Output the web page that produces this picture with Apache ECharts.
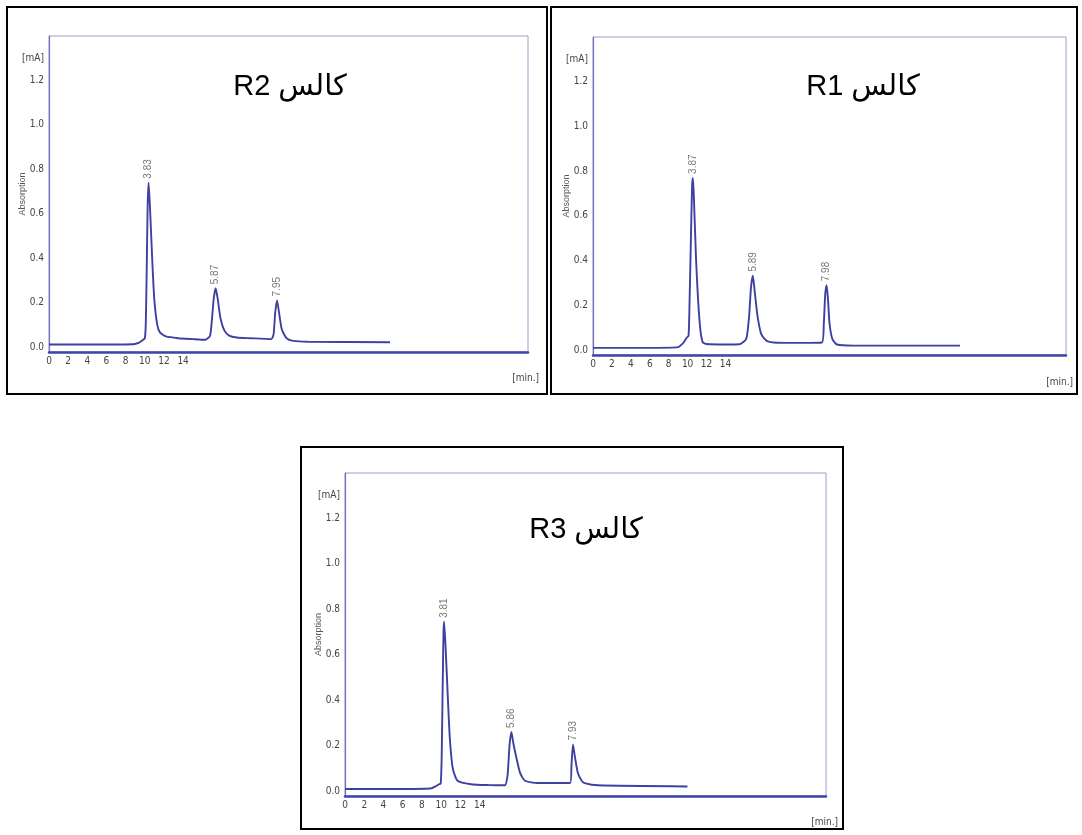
<!DOCTYPE html>
<html>
<head>
<meta charset="utf-8">
<script src="https://cdn.jsdelivr.net/npm/echarts@6/dist/echarts.min.js"></script>
<style>html,body{margin:0;background:#fff}#chart{width:1082px;height:835px}</style>
</head>
<body>
<div id="chart"></div>
<script>
// tick labels
const xTicks = [0, 2, 4, 6, 8, 10, 12, 14];
const yTicks = [0, 0.2, 0.4, 0.6, 0.8, 1.0, 1.2];
const yUnitAt = 1.3;
const titles = ['R2 كالس', 'R1 كالس', 'R3 كالس'];

// chromatogram traces [time, absorption]
const r2Signal = [[0,0.012],[5,0.012],[8.8,0.013],[9.4,0.02],[9.8,0.032],[10.0,0.04],[10.1,0.1],[10.2,0.35],[10.3,0.64],[10.4,0.74],[10.55,0.62],[10.8,0.37],[11.0,0.21],[11.3,0.1],[11.6,0.065],[12.2,0.048],[13.5,0.04],[15,0.036],[16.3,0.033],[16.8,0.05],[17.0,0.12],[17.2,0.22],[17.4,0.265],[17.6,0.22],[17.9,0.13],[18.3,0.075],[18.8,0.052],[19.6,0.043],[21,0.04],[23.2,0.036],[23.45,0.06],[23.6,0.15],[23.8,0.21],[24.0,0.16],[24.3,0.08],[24.8,0.04],[25.5,0.028],[27,0.024],[35.6,0.022]];
const r1Signal = [[0,0.01],[5,0.01],[8.9,0.012],[9.5,0.03],[9.9,0.055],[10.1,0.065],[10.2,0.2],[10.35,0.5],[10.48,0.74],[10.57,0.77],[10.7,0.64],[10.9,0.4],[11.1,0.23],[11.35,0.09],[11.6,0.035],[12.0,0.027],[14,0.025],[15.5,0.026],[16.2,0.05],[16.5,0.15],[16.7,0.28],[16.9,0.333],[17.1,0.26],[17.4,0.15],[17.8,0.07],[18.4,0.04],[19.5,0.033],[22,0.032],[24.2,0.034],[24.4,0.12],[24.55,0.25],[24.7,0.29],[24.85,0.22],[25.0,0.12],[25.3,0.05],[25.8,0.025],[27.5,0.02],[38.8,0.02]];
const r3Signal = [[0,0.009],[5,0.009],[8.9,0.011],[9.4,0.02],[9.8,0.03],[9.95,0.032],[10.05,0.15],[10.15,0.45],[10.24,0.7],[10.3,0.745],[10.45,0.64],[10.7,0.4],[10.9,0.23],[11.2,0.1],[11.7,0.045],[13.1,0.03],[15,0.026],[16.6,0.025],[16.9,0.07],[17.1,0.2],[17.3,0.26],[17.5,0.21],[17.8,0.15],[18.2,0.08],[18.7,0.045],[20,0.035],[23.4,0.035],[23.55,0.12],[23.7,0.205],[23.9,0.15],[24.2,0.08],[24.6,0.045],[24.9,0.035],[26.3,0.025],[35.6,0.02]];

// peak apexes with retention-time labels
const r2Peaks = [[10.4, 0.74, '3.83'], [17.4, 0.265, '5.87'], [23.8, 0.21, '7.95']];
const r1Peaks = [[10.57, 0.77, '3.87'], [16.9, 0.333, '5.89'], [24.7, 0.29, '7.98']];
const r3Peaks = [[10.3, 0.745, '3.81'], [17.3, 0.26, '5.86'], [23.7, 0.205, '7.93']];

const signals = [r2Signal, r1Signal, r3Signal];
const peaks = [r2Peaks, r1Peaks, r3Peaks];

const grids = [
  { left: 49, top: 36, width: 479, height: 316 },
  { left: 593, top: 37, width: 473, height: 318 },
  { left: 345, top: 473, width: 481, height: 323 }
];
const frames = [
  { x: 7, y: 7, width: 540, height: 387 },
  { x: 551, y: 7, width: 526, height: 387 },
  { x: 301, y: 447, width: 542, height: 382 }
];
const titlePos = [[290, 87], [863, 87], [586, 530]];
const minPos = [[539, 378], [1073, 382], [838, 822]];

const lineColor = '#3d41a0';
const narrow = "'DejaVu Sans Condensed', 'Liberation Sans Narrow', sans-serif";

const chart = echarts.init(document.getElementById('chart'), null, { renderer: 'canvas' });

chart.setOption({
  backgroundColor: '#fff',
  animation: false,
  grid: grids.map(g => ({ ...g, show: true, borderColor: '#9a9cd0', borderWidth: 1, backgroundColor: 'transparent' })),
  xAxis: grids.map((g, i) => ({
    type: 'value', gridIndex: i, min: 0, max: 50,
    axisLine: { show: true, onZero: false, lineStyle: { color: '#3f44a6', width: 2.5 } },
    axisTick: { show: false },
    splitLine: { show: false },
    axisLabel: { customValues: xTicks, color: '#444', fontSize: 10, fontFamily: narrow, margin: 4 }
  })),
  yAxis: grids.map((g, i) => ({
    type: 'value', gridIndex: i, min: -0.022, max: 1.4,
    name: 'Absorption', nameLocation: 'middle', nameGap: 22, nameMoveOverlap: false,
    nameTextStyle: { color: '#555', fontSize: 9, fontFamily: 'Liberation Sans, sans-serif' },
    axisLine: { show: true, lineStyle: { color: '#6f73bb', width: 1.2 } },
    axisTick: { show: false },
    splitLine: { show: false },
    axisLabel: {
      customValues: yTicks.concat([yUnitAt]), color: '#444', fontSize: 10, fontFamily: narrow, margin: 5,
      formatter: v => (v > 1.25 ? '[mA]' : v.toFixed(1))
    }
  })),
  series: [
    ...signals.map((s, i) => ({
      type: 'line', xAxisIndex: i, yAxisIndex: i, data: s, symbol: 'none', smooth: 0.2,
      lineStyle: { color: lineColor, width: 1.9 }
    })),
    ...peaks.map((p, i) => ({
      type: 'scatter', xAxisIndex: i, yAxisIndex: i, data: p, symbolSize: 0, silent: true,
      label: {
        show: true, position: 'top', distance: 4, rotate: 90, align: 'left', verticalAlign: 'middle',
        color: '#555', fontSize: 10, fontFamily: 'Liberation Sans, sans-serif',
        formatter: d => d.value[2]
      }
    }))
  ],
  graphic: [
    ...frames.map(f => ({ type: 'rect', shape: f, style: { fill: 'none', stroke: '#000', lineWidth: 2 }, silent: true })),
    ...titles.map((t, i) => ({
      type: 'text', x: titlePos[i][0], y: titlePos[i][1],
      style: { text: t, fill: '#000', fontSize: 29, fontFamily: "'Liberation Sans', 'DejaVu Sans', sans-serif", align: 'center', verticalAlign: 'middle' }
    })),
    ...minPos.map(p => ({
      type: 'text', x: p[0], y: p[1],
      style: { text: '[min.]', fill: '#444', fontSize: 10, fontFamily: narrow, align: 'right', verticalAlign: 'middle' }
    }))
  ]
});
</script>
</body>
</html>
